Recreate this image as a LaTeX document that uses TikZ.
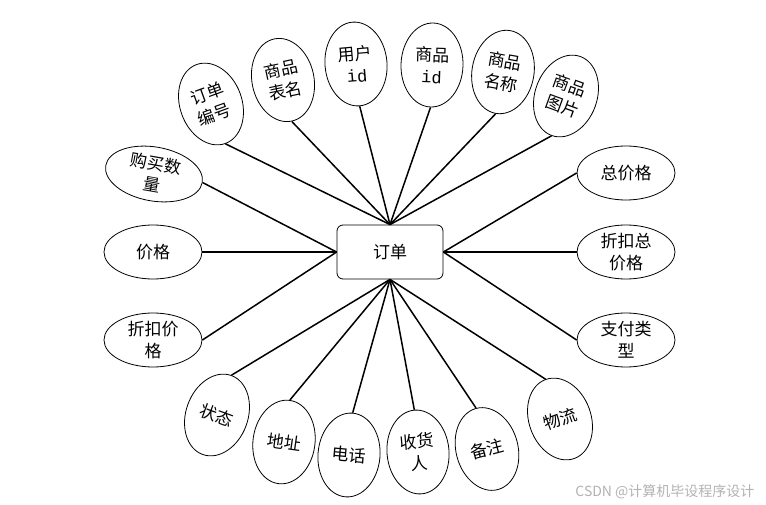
\documentclass[tikz,border=0pt]{standalone}
\usepackage{fontspec}
\newfontfamily\cjk{Noto Sans CJK SC}
\newfontfamily\monofnt{Liberation Mono}
\usetikzlibrary{shapes.geometric}
\begin{document}
\begin{tikzpicture}[x=1pt,y=1pt,
  attr/.style={ellipse, draw, line width=0.8pt, inner sep=-14pt, align=center, font=\cjk\fontsize{17}{22}\selectfont},
  vattr/.style={attr, minimum width=62pt, minimum height=84pt},
  hattr/.style={attr, minimum width=98pt, minimum height=54pt},
  ent/.style={draw, rounded corners=6pt, line width=0.8pt, minimum width=106pt, minimum height=54pt, font=\cjk\fontsize{17}{22}\selectfont},
  link/.style={line width=1.5pt},
  wmtext/.style={font=\cjk\fontsize{14}{16}\selectfont, text=black!30}]
\useasboundingbox (0,0) rectangle (766,-505);
% entity
\node[ent] (order) at (390,-252) {订单};
% top attributes
\node[vattr, rotate=20]  (t1) at (211,-104) {订单\\编号};
\node[vattr, rotate=12]  (t2) at (283,-80)  {商品\\表名};
\node[vattr, rotate=5]   (t3) at (356,-64)  {用户\\{\monofnt id}};
\node[vattr, rotate=-2]  (t4) at (432,-65)  {商品\\{\monofnt id}};
\node[vattr, rotate=-10] (t5) at (503,-72)  {商品\\名称};
\node[vattr, rotate=-20] (t6) at (566,-96)  {商品\\图片};
% bottom attributes
\node[vattr, rotate=-20] (b1) at (217,-415) {状态};
\node[vattr, rotate=-8]  (b2) at (284,-442) {地址};
\node[vattr, rotate=-5]  (b3) at (349,-455) {电话};
\node[vattr, rotate=5]   (b4) at (418,-452) {收货\\人};
\node[vattr, rotate=15]  (b5) at (487,-449) {备注};
\node[vattr, rotate=20]  (b6) at (560,-419) {物流};
% left attributes
\node[hattr, rotate=-10] (l1) at (154,-174) {购买数\\量};
\node[hattr] (l2) at (153,-252) {价格};
\node[hattr] (l3) at (153,-340) {折扣价\\格};
% right attributes
\node[hattr] (r1) at (626,-173) {总价格};
\node[hattr] (r2) at (626,-252) {折扣总\\价格};
\node[hattr] (r3) at (626,-340) {支付类\\型};
% connectors
\foreach \n in {t1,t2,t3,t4,t5,t6} \draw[link] (\n.south) -- (order.north);
\foreach \n in {b1,b2,b3,b4,b5,b6} \draw[link] (\n.north) -- (order.south);
\foreach \n in {l1,l2,l3} \draw[link] (\n.east) -- (order.west);
\foreach \n in {r1,r2,r3} \draw[link] (\n.west) -- (order.east);
% watermark
\node[wmtext, anchor=east] (wm) at (758,-492) {CSDN @计算机毕设程序设计};
\end{tikzpicture}
\end{document}
